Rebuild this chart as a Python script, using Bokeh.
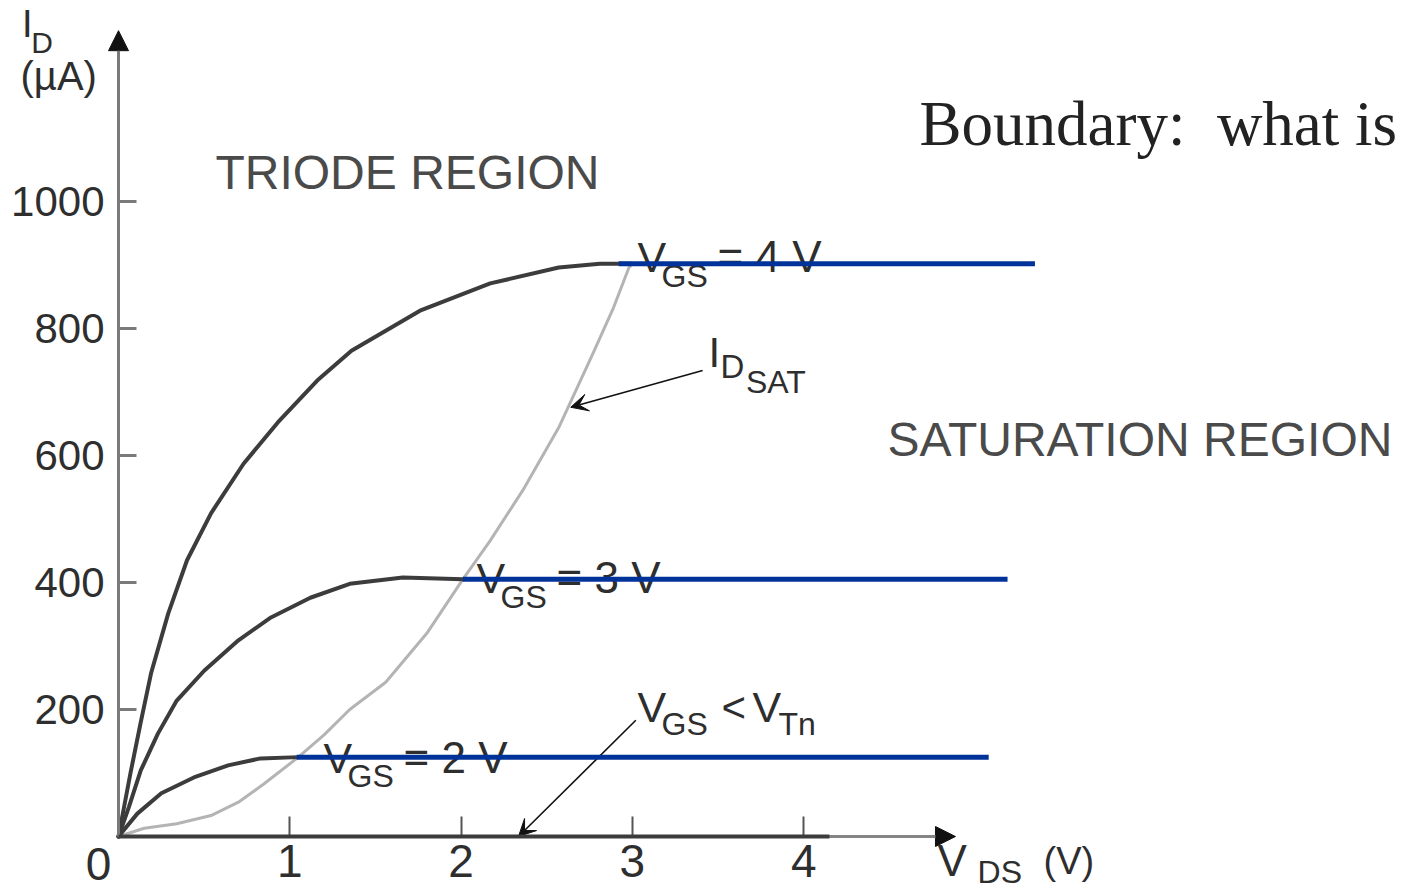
from bokeh.plotting import figure
from bokeh.models import Range1d, LinearAxis, FixedTicker, Label, Arrow, NormalHead, VeeHead
from bokeh.embed import file_html
from bokeh.resources import INLINE

# ---------------- data (V_DS in volts, I_D in microamps) ----------------
vgs4_vds = [0, 0.07, 0.13, 0.19, 0.29, 0.40, 0.54, 0.73, 0.93, 1.16, 1.36, 1.76, 2.17, 2.57, 2.81, 3.00]
vgs4_id = [0, 100, 180, 257, 351, 435, 509, 587, 652, 718, 765, 828, 871, 896, 902, 902]
vgs3_vds = [0, 0.06, 0.13, 0.23, 0.34, 0.50, 0.70, 0.89, 1.12, 1.35, 1.66, 2.01]
vgs3_id = [0, 46, 104, 162, 214, 261, 309, 345, 376, 398, 408, 405]
vgs2_vds = [0, 0.11, 0.25, 0.44, 0.64, 0.83, 1.05]
vgs2_id = [0, 36, 68, 93, 112, 123, 125]
idsat_vds = [0, 0.15, 0.34, 0.54, 0.70, 0.85, 1.05, 1.20, 1.35, 1.56, 1.80, 2.01, 2.17, 2.36, 2.57, 2.77, 2.89, 2.98, 3.00]
idsat_id = [0, 13, 20, 33, 54, 83, 125, 160, 200, 243, 320, 405, 466, 545, 644, 761, 833, 896, 902]
sat_id = [902, 405, 125]
sat_from = [2.92, 2.01, 1.04]
sat_to = [5.35, 5.19, 5.08]
cutoff_vds = [0, 4.15]
cutoff_id = [0, 0]
x_ticks = [1, 2, 3, 4]
y_ticks = [200, 400, 600, 800, 1000]

# ---------------- layout ----------------
W, H = 1405, 892
PX_PER_V = 171.3
PX_PER_UA = 0.635
X0, Y0 = 118, 836           # canvas px of the origin

xs = -X0 / PX_PER_V
xe = (W - X0) / PX_PER_V
ys = -(H - Y0) / PX_PER_UA
ye = Y0 / PX_PER_UA

p = figure(width=W, height=H, output_backend="svg", toolbar_location=None,
           x_axis_type=None, y_axis_type=None,
           x_range=Range1d(xs, xe), y_range=Range1d(ys, ye),
           min_border=0)
p.outline_line_color = None
p.background_fill_color = "white"
p.border_fill_color = "white"

FONT = "Liberation Sans"

yax = LinearAxis(ticker=FixedTicker(ticks=y_ticks), bounds=(0, 1232), fixed_location=0,
                 axis_line_color="#7a7a7a", axis_line_width=3,
                 major_tick_in=18, major_tick_out=0,
                 major_tick_line_color="#7a7a7a", major_tick_line_width=3,
                 minor_tick_line_color=None,
                 major_label_standoff=14, major_label_text_font=FONT,
                 major_label_text_font_size="42px", major_label_text_color="#2e2e2e")
p.add_layout(yax, "left")

xax = LinearAxis(ticker=FixedTicker(ticks=x_ticks), bounds=(0, 4.78), fixed_location=0,
                 axis_line_color="#858585", axis_line_width=3,
                 major_tick_in=20, major_tick_out=0,
                 major_tick_line_color="#555555", major_tick_line_width=2,
                 minor_tick_line_color=None,
                 major_label_standoff=8, major_label_text_font=FONT,
                 major_label_text_font_size="46px", major_label_text_color="#2e2e2e")
p.add_layout(xax, "below")

# axis arrow heads
p.add_layout(Arrow(x_start=0, y_start=1220, x_end=0, y_end=1269,
                   line_color="#7a7a7a", line_width=3,
                   end=NormalHead(size=20, fill_color="#111111", line_color="#111111")))
p.add_layout(Arrow(x_start=4.70, y_start=0, x_end=4.886, y_end=0,
                   line_color="#858585", line_width=3,
                   end=NormalHead(size=20, fill_color="#111111", line_color="#111111")))

# curves
p.line(idsat_vds, idsat_id, line_color="#b4b4b4", line_width=3, line_join="round")
for xv, yv in [(vgs4_vds, vgs4_id), (vgs3_vds, vgs3_id), (vgs2_vds, vgs2_id)]:
    p.line(xv, yv, line_color="#3c3c3c", line_width=4, line_join="round", line_cap="round")
p.line(cutoff_vds, cutoff_id, line_color="#3c3c3c", line_width=4, level="overlay")

# annotation arrows
p.add_layout(Arrow(x_start=3.41, y_start=734, x_end=2.64, y_end=676,
                   line_color="#111111", line_width=1.6,
                   end=VeeHead(size=17, fill_color="#111111", line_color="#111111")))
p.add_layout(Arrow(x_start=3.02, y_start=183, x_end=2.335, y_end=0,
                   line_color="#111111", line_width=1.6,
                   end=VeeHead(size=17, fill_color="#111111", line_color="#111111")))

BASELINE_FIX = 0.36   # em: raise labels so their alphabetic baseline lands on y


def lab(text, x, y, size, font=FONT, color="#2e2e2e", align="left", fix=BASELINE_FIX):
    y_adj = y + fix * size / PX_PER_UA
    p.add_layout(Label(x=x, y=y_adj, text=text, text_font=font, text_font_size=f"{size}px",
                       text_color=color, text_align=align, text_baseline="alphabetic"))


# axis titles
lab("I", -0.563, 1258, 38)
lab("D", -0.510, 1233, 30)
lab("(µA)", -0.572, 1198, 40, fix=0.0)
lab("0", -0.117, -70, 46, align="center")
lab("V", 4.781, -63, 44)
lab("DS", 5.015, -74, 32)
lab("(V)", 5.40, -60, 38)

# region texts
lab("TRIODE REGION", 0.566, 1019, 48, color="#4a4a4a")
lab("SATURATION REGION", 4.489, 598, 48, color="#4a4a4a")
lab("Boundary:", 4.676, 1087, 63, font="Liberation Serif", color="#222222")
lab("what is", 6.412, 1087, 63, font="Liberation Serif", color="#222222")

# V_GS labels
for vx, vy, sy, num in [(3.030, 888, 865, "4"), (2.090, 383, 359, "3"), (1.197, 99, 77, "2")]:
    lab("V", vx, vy, 43)
    lab("GS", vx + 0.140, sy, 32)
    lab("= " + num + " V", vx + 0.467, vy, 44)

# I_DSAT label
lab("I", 3.444, 739, 42)
lab("D", 3.514, 721, 33)
lab("SAT", 3.663, 698, 32)

# V_GS < V_Tn label
lab("V", 3.030, 180, 43)
lab("GS", 3.170, 159, 32)
lab("<", 3.520, 180, 42)
lab("V", 3.701, 180, 43)
lab("Tn", 3.853, 159, 32)

# saturation current levels (drawn above the labels, as in the figure)
p.segment(x0=sat_from, y0=sat_id, x1=sat_to, y1=sat_id,
          line_color="#003399", line_width=5, level="overlay")

open("out.html", "w").write(file_html(p, INLINE))
